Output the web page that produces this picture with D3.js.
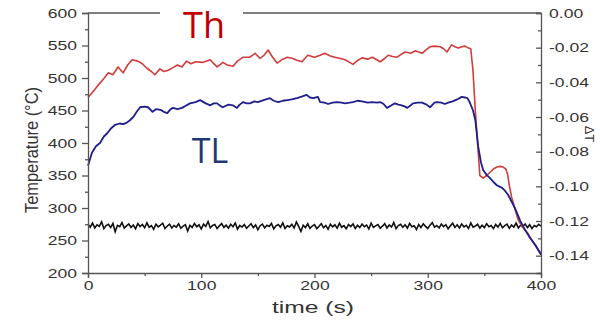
<!DOCTYPE html>
<html>
<head>
<meta charset="utf-8">
<script src="https://cdn.jsdelivr.net/npm/d3@7/dist/d3.min.js"></script>
<style>
  body { margin: 0; background: #fff; }
  svg { display: block; }
</style>
</head>
<body>
<svg id="chart" width="600" height="320"></svg>
<script>
// Th (hot side) temperature, °C
const thTime = [0,4,9,13,18,22,26.5,31,35,39,44,48,52,56,59,63.5,67,71,75,79,83,87,91,95,101,108,111,114,117,119,123,128,132,137,143,147.5,152,156,159,163,167,171,176,181,185,189,194,200,205,209,214,218,223,227,231,234,238,242,247,251,255,258,262,265,269,273,277,280,285,289,295,299,302,306,311,314,317,321,324,327,330,333,336,338,340,342,344,346,349,352,355,358,361,364,366.5,369,370.5,372,374,377,380,384,388,392,396,400];
const thTemp = [470,478,489,497,508,505,517,508,520,528,526,522,515,510,505,514,510,512,516,520,517,526,522,525,524,528,522,517,521,524,520,518,526,532,532,538,530,536,543,532,523,528,532,530,527,525,535,532,535,538,534,532,530,528,524,521,527,531,529,532,528,525,530,535,533,532,537,540,538,542,538,544,548,549,548,545,540,551,548,546,548,549,546,545,510,450,400,350,346,350,355,360,363,364,363,360,352,335,317,298,281,270,262,250,240,230];

// TL (cold side) temperature, °C
const tlTime = [0,3.5,7,10.6,14,17,20,24,28,31,34,37,40,43,46,50,53,57,60,64,67,70,73,75,79,83,86,90,95,99,104,108,111,114,117,119,124,128,131.5,134,137,140,143,147,150,155,160.7,164,168,172,176,180,184.5,188,193,196,199,203,205,209,212,216,220,224,227,231,234,238,242,247,251,255,258,261,264,268,271,274,277,280,282,285,287,291,295,299,302,306,308,312,315,318,322,326,330,333,335,337,340,342,344.6,347,349,352,355,358,361,365.6,368,371,374,377,381.5,386,390,395,400];
const tlTemp = [365,385,395,400,410,415,422,428,430,429,431,435,440,448,455,456,455,448,452,451,448,446,452,454,452,454,457,461,463,466,461,458,461,461,457,455,459,458,454,459,463,461,461,464,463,466,469,465,463,465,466,467,469,471,474,470,469,471,463,462,460,462,463,462,461,462,463,465,464,462,463,462,463,460,454,458,461,459,458,456,454,458,461,462,462,459,455,462,463,462,460,462,464,467,471,470,469,463,450,435,394,370,358,351,346,340,335,331,327,320,310,300,281,266,255,243,228];

// ΔT signal (right axis), sampled every 2 s
const dtTime = d3.range(0, 401, 2);
const dtValue = [
  -0.1218,-0.1236,-0.1212,-0.1240,-0.1222,-0.1231,-0.1205,-0.1244,-0.1226,-0.1219,-0.1238,-0.1214,-0.1262,-0.1225,-0.1233,-0.1209,-0.1241,-0.1228,-0.1217,-0.1237,
  -0.1223,-0.1245,-0.1215,-0.1232,-0.1220,-0.1239,-0.1211,-0.1236,-0.1227,-0.1248,-0.1219,-0.1234,-0.1224,-0.1213,-0.1243,-0.1229,-0.1218,-0.1240,-0.1226,-0.1235,
  -0.1216,-0.1242,-0.1230,-0.1221,-0.1258,-0.1225,-0.1237,-0.1214,-0.1233,-0.1222,-0.1246,-0.1218,-0.1231,-0.1203,-0.1239,-0.1226,-0.1220,-0.1244,-0.1228,-0.1215,
  -0.1237,-0.1224,-0.1241,-0.1219,-0.1233,-0.1212,-0.1247,-0.1226,-0.1235,-0.1221,-0.1242,-0.1229,-0.1216,-0.1238,-0.1223,-0.1251,-0.1227,-0.1218,-0.1240,-0.1225,
  -0.1232,-0.1214,-0.1245,-0.1228,-0.1220,-0.1236,-0.1211,-0.1243,-0.1227,-0.1234,-0.1219,-0.1240,-0.1206,-0.1231,-0.1260,-0.1224,-0.1238,-0.1216,-0.1242,-0.1229,
  -0.1221,-0.1244,-0.1230,-0.1215,-0.1239,-0.1226,-0.1248,-0.1219,-0.1234,-0.1222,-0.1241,-0.1213,-0.1236,-0.1227,-0.1245,-0.1220,-0.1232,-0.1217,-0.1243,-0.1225,
  -0.1238,-0.1218,-0.1233,-0.1224,-0.1246,-0.1212,-0.1237,-0.1228,-0.1221,-0.1242,-0.1230,-0.1215,-0.1240,-0.1223,-0.1235,-0.1209,-0.1244,-0.1226,-0.1219,-0.1236,
  -0.1222,-0.1241,-0.1214,-0.1233,-0.1227,-0.1249,-0.1220,-0.1238,-0.1216,-0.1231,-0.1243,-0.1224,-0.1210,-0.1235,-0.1226,-0.1240,-0.1218,-0.1232,-0.1221,-0.1245,
  -0.1228,-0.1213,-0.1237,-0.1222,-0.1240,-0.1217,-0.1234,-0.1225,-0.1243,-0.1211,-0.1236,-0.1229,-0.1219,-0.1241,-0.1224,-0.1238,-0.1215,-0.1233,-0.1226,-0.1244,
  -0.1220,-0.1235,-0.1214,-0.1239,-0.1227,-0.1218,-0.1242,-0.1223,-0.1236,-0.1212,-0.1240,-0.1225,-0.1231,-0.1217,-0.1238,-0.1221,-0.1244,-0.1226,-0.1233,-0.1219,
  -0.1230
];

// ticks
const xTicks = [0, 100, 200, 300, 400];
const xMinor = [50, 150, 250, 350];
const yTicks = [200, 250, 300, 350, 400, 450, 500, 550, 600];
const yMinor = [225, 275, 325, 375, 425, 475, 525, 575];
const rTicks = [0, -0.02, -0.04, -0.06, -0.08, -0.10, -0.12, -0.14];
const rMinor = [-0.01, -0.03, -0.05, -0.07, -0.09, -0.11, -0.13, -0.15];

const svg = d3.select('#chart');
const plotLeft = 88, plotRight = 541, plotTop = 13, plotBottom = 273;

const x = d3.scaleLinear().domain([0, 400]).range([plotLeft, plotRight]);
const yL = d3.scaleLinear().domain([200, 600]).range([plotBottom, plotTop]);
const yR = d3.scaleLinear().domain([-0.15, 0]).range([plotBottom, plotTop]);

const axisColor = '#555';
const labelColor = '#333';
const font = '"Liberation Sans", Arial, sans-serif';
// the original picture is stretched sideways, so the texts are widened
const stretch = 1.35;

function widen(sel) {
  sel.each(function () {
    const w = this.getComputedTextLength();
    d3.select(this).attr('textLength', w * stretch).attr('lengthAdjust', 'spacingAndGlyphs');
  });
}

function styleAxis(g) {
  g.selectAll('path, line').attr('stroke', axisColor).attr('stroke-width', 1.3);
  g.selectAll('text').attr('fill', labelColor).attr('font-family', font).attr('font-size', 13).call(widen);
}

// lines
const lineTh = d3.line().x((d, i) => x(thTime[i])).y(d => yL(d));
const lineTl = d3.line().x((d, i) => x(tlTime[i])).y(d => yL(d));
const lineDt = d3.line().x((d, i) => x(dtTime[i])).y(d => yR(d));

svg.append('path').attr('d', lineDt(dtValue))
  .attr('fill', 'none').attr('stroke', '#111').attr('stroke-width', 1.6);
svg.append('path').attr('d', lineTh(thTemp))
  .attr('fill', 'none').attr('stroke', '#d23c3c').attr('stroke-width', 1.6).attr('stroke-linejoin', 'round');
svg.append('path').attr('d', lineTl(tlTemp))
  .attr('fill', 'none').attr('stroke', '#1e1e8c').attr('stroke-width', 1.8).attr('stroke-linejoin', 'round');

// frame top
svg.append('line').attr('x1', plotLeft).attr('x2', plotRight).attr('y1', plotTop).attr('y2', plotTop)
  .attr('stroke', axisColor).attr('stroke-width', 1.3);

// left axis
svg.append('g').attr('transform', `translate(${plotLeft},0)`)
  .call(d3.axisLeft(yL).tickValues(yTicks).tickSize(6).tickPadding(5).tickFormat(d3.format('d')))
  .call(styleAxis);
svg.append('g').attr('transform', `translate(${plotLeft},0)`)
  .call(d3.axisLeft(yL).tickValues(yMinor).tickSize(3).tickFormat(''))
  .call(styleAxis).call(g => g.select('.domain').remove());

// bottom axis
svg.append('g').attr('transform', `translate(0,${plotBottom})`)
  .call(d3.axisBottom(x).tickValues(xTicks).tickSize(5).tickPadding(3).tickFormat(d3.format('d')))
  .call(styleAxis);
svg.append('g').attr('transform', `translate(0,${plotBottom})`)
  .call(d3.axisBottom(x).tickValues(xMinor).tickSize(3).tickFormat(''))
  .call(styleAxis).call(g => g.select('.domain').remove());

// right axis, ticks inward
svg.append('g').attr('transform', `translate(${plotRight},0)`)
  .call(d3.axisRight(yR).tickValues(rTicks).tickSize(-5).tickPadding(8).tickFormat(d => d.toFixed(2)))
  .call(styleAxis);
svg.append('g').attr('transform', `translate(${plotRight},0)`)
  .call(d3.axisRight(yR).tickValues(rMinor).tickSize(-3).tickFormat(''))
  .call(styleAxis).call(g => g.select('.domain').remove());

// axis titles
svg.append('text')
  .attr('transform', 'translate(38,150) rotate(-90)')
  .attr('text-anchor', 'middle')
  .attr('font-family', font).attr('font-size', 19).attr('fill', '#333')
  .attr('textLength', 126).attr('lengthAdjust', 'spacingAndGlyphs')
  .text('Temperature (°C)');
svg.append('text')
  .attr('x', 313).attr('y', 313)
  .attr('text-anchor', 'middle')
  .attr('font-family', font).attr('font-size', 16).attr('fill', '#333')
  .attr('textLength', 82).attr('lengthAdjust', 'spacingAndGlyphs')
  .text('time (s)');
svg.append('text')
  .attr('transform', 'translate(585,134) rotate(90)')
  .attr('text-anchor', 'middle')
  .attr('font-family', font).attr('font-size', 13).attr('fill', '#333')
  .text('ΔT');

// Th / TL labels
svg.append('rect').attr('x', 160).attr('y', 0).attr('width', 83).attr('height', 56).attr('fill', '#fff');
svg.append('text').attr('x', 204).attr('y', 38).attr('text-anchor', 'middle')
  .attr('font-family', '"Open Sans", sans-serif').attr('font-size', 36).attr('fill', '#c00000')
  .text('Th');
svg.append('text').attr('x', 210).attr('y', 163).attr('text-anchor', 'middle')
  .attr('font-family', '"Open Sans", sans-serif').attr('font-size', 34).attr('fill', '#1f3870')
  .text('TL');
</script>
</body>
</html>
